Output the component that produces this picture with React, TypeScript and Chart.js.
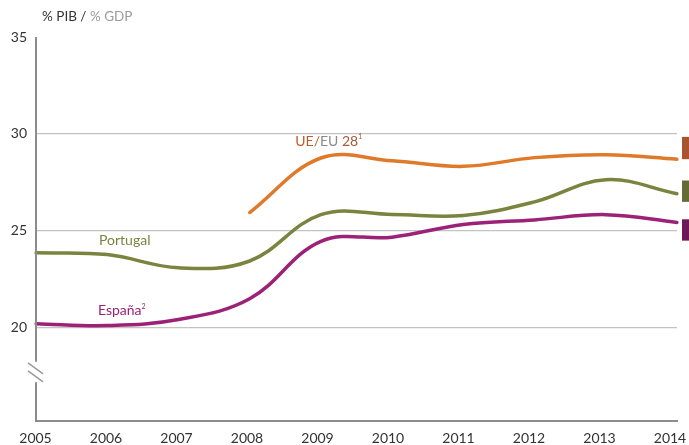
import React, { useEffect, useRef } from "react";
import { Chart, registerables } from "chart.js";

Chart.register(...registerables);

const years = ["2005", "2006", "2007", "2008", "2009", "2010", "2011", "2012", "2013", "2014"];
const ueValues = [null, null, null, 25.95, 28.76, 28.62, 28.33, 28.78, 28.93, 28.7];
const portugalValues = [23.87, 23.78, 23.1, 23.45, 25.84, 25.85, 25.8, 26.5, 27.64, 26.92];
const espanaValues = [20.22, 20.12, 20.43, 21.5, 24.46, 24.68, 25.33, 25.57, 25.84, 25.44];
const yTicks = [20, 25, 30, 35];

const C_UE = "#e07a2b";
const C_PT = "#7a843f";
const C_ES = "#9c2277";
const FONT = "Lato";

const overlay = {
  id: "overlay",
  afterDraw(chart: any) {
    const { ctx, chartArea } = chart;
    const xs = chart.scales.x;
    const ys = chart.scales.y;
    const left = chartArea.left;
    ctx.save();
    // y axis with break + x axis line
    ctx.strokeStyle = "#8c8c8c";
    ctx.lineWidth = 2;
    const bTop = ys.getPixelForValue(18.25);
    const bBot = ys.getPixelForValue(17.2);
    ctx.beginPath();
    ctx.moveTo(left, chartArea.top);
    ctx.lineTo(left, bTop);
    ctx.moveTo(left, bBot);
    ctx.lineTo(left, chartArea.bottom);
    ctx.lineTo(chartArea.right + 1, chartArea.bottom);
    ctx.stroke();
    ctx.lineWidth = 1.5;
    ctx.strokeStyle = "#9a9a9a";
    ctx.beginPath();
    ctx.moveTo(left - 8, bTop + 1);
    ctx.lineTo(left + 7, bTop + 12);
    ctx.moveTo(left - 8, bTop + 9);
    ctx.lineTo(left + 7, bTop + 20);
    ctx.stroke();

    // title
    ctx.font = `13.5px ${FONT}`;
    ctx.textBaseline = "middle";
    ctx.textAlign = "left";
    let tx = left + 6;
    const ty = 17;
    ctx.fillStyle = "#333333";
    ctx.fillText("% PIB / ", tx, ty);
    tx += ctx.measureText("% PIB / ").width;
    ctx.fillStyle = "#9a9a9a";
    ctx.fillText("% GDP", tx, ty);

    // series labels
    const label = (parts: [string, string, number?][], xv: number, yv: number) => {
      let x = xs.getPixelForValue(xv);
      const y = ys.getPixelForValue(yv);
      for (const [t, c, size] of parts) {
        ctx.font = `${size || 14}px ${FONT}`;
        ctx.fillStyle = c;
        const dy = size ? -4 : 0;
        ctx.fillText(t, x, y + dy);
        x += ctx.measureText(t).width;
      }
    };
    label([["UE/", "#b8602e"], ["EU ", "#8a8a8a"], ["28", "#a85a35"], ["1", "#a85a35", 7]], 3.64, 29.63);
    label([["Portugal", C_PT]], 0.885, 24.5);
    label([["España", C_ES], ["2", C_ES, 7]], 0.87, 20.9);

    // right swatches
    const sw = (c: string, v1: number, v2: number) => {
      const y1 = ys.getPixelForValue(v1);
      const y2 = ys.getPixelForValue(v2);
      ctx.fillStyle = c;
      ctx.fillRect(chartArea.right + 5, y1, 10, y2 - y1);
    };
    sw("#a8552f", 29.85, 28.7);
    sw("#666a35", 27.6, 26.5);
    sw("#6e1856", 25.6, 24.5);
    ctx.restore();
  },
};

export default function App() {
  const ref = useRef<HTMLCanvasElement | null>(null);
  useEffect(() => {
    document.body.style.margin = "0";
    const chart = new Chart(ref.current as HTMLCanvasElement, {
      type: "line",
      data: {
        labels: years,
        datasets: [
          { label: "UE/EU 28", data: ueValues, borderColor: C_UE },
          { label: "Portugal", data: portugalValues, borderColor: C_PT },
          { label: "España", data: espanaValues, borderColor: C_ES },
        ].map((d) => ({ ...d, borderWidth: 3.5, pointRadius: 0, tension: 0.38, fill: false, borderCapStyle: "round" as const })),
      },
      options: {
        animation: false,
        responsive: false,
        maintainAspectRatio: false,
        layout: { padding: { top: 37, right: 12, left: 0, bottom: 0 } },
        plugins: { legend: { display: false }, tooltip: { enabled: false } },
        scales: {
          x: {
            type: "category",
            offset: false,
            display: false,
          },
          xLabels: {
            type: "linear",
            position: "bottom",
            min: 0.0071,
            max: 9.0993,
            afterBuildTicks: (s: any) => { s.ticks = years.map((_, i) => ({ value: i })); },
            grid: { display: false, drawTicks: false },
            border: { display: false },
            ticks: {
              color: "#333333",
              font: { family: FONT, size: 14 },
              padding: 9,
              maxRotation: 0,
              autoSkip: false,
              callback: (v: any) => years[Math.round(Number(v))],
            },
            afterFit: (s: any) => { s.height = 24; s.paddingLeft = 0; s.paddingRight = 0; },
          },
          y: {
            min: 15.2,
            max: 35,
            afterBuildTicks: (s: any) => { s.ticks = yTicks.map((v) => ({ value: v })); },
            grid: {
              drawTicks: false,
              color: (c: any) => (c.tick && c.tick.value === 35 ? "rgba(0,0,0,0)" : "#c3c3c3"),
              lineWidth: 1.2,
            },
            border: { display: false },
            ticks: { color: "#333333", font: { family: FONT, size: 14 }, padding: 9 },
            afterFit: (s: any) => { s.width = 36; s.paddingTop = 0; s.paddingBottom = 0; },
          },
        },
      },
      plugins: [overlay],
    });
    return () => chart.destroy();
  }, []);
  return (
    <div style={{ width: 689, height: 445 }}>
      <canvas ref={ref} width={689} height={445} style={{ display: "block" }} />
    </div>
  );
}
